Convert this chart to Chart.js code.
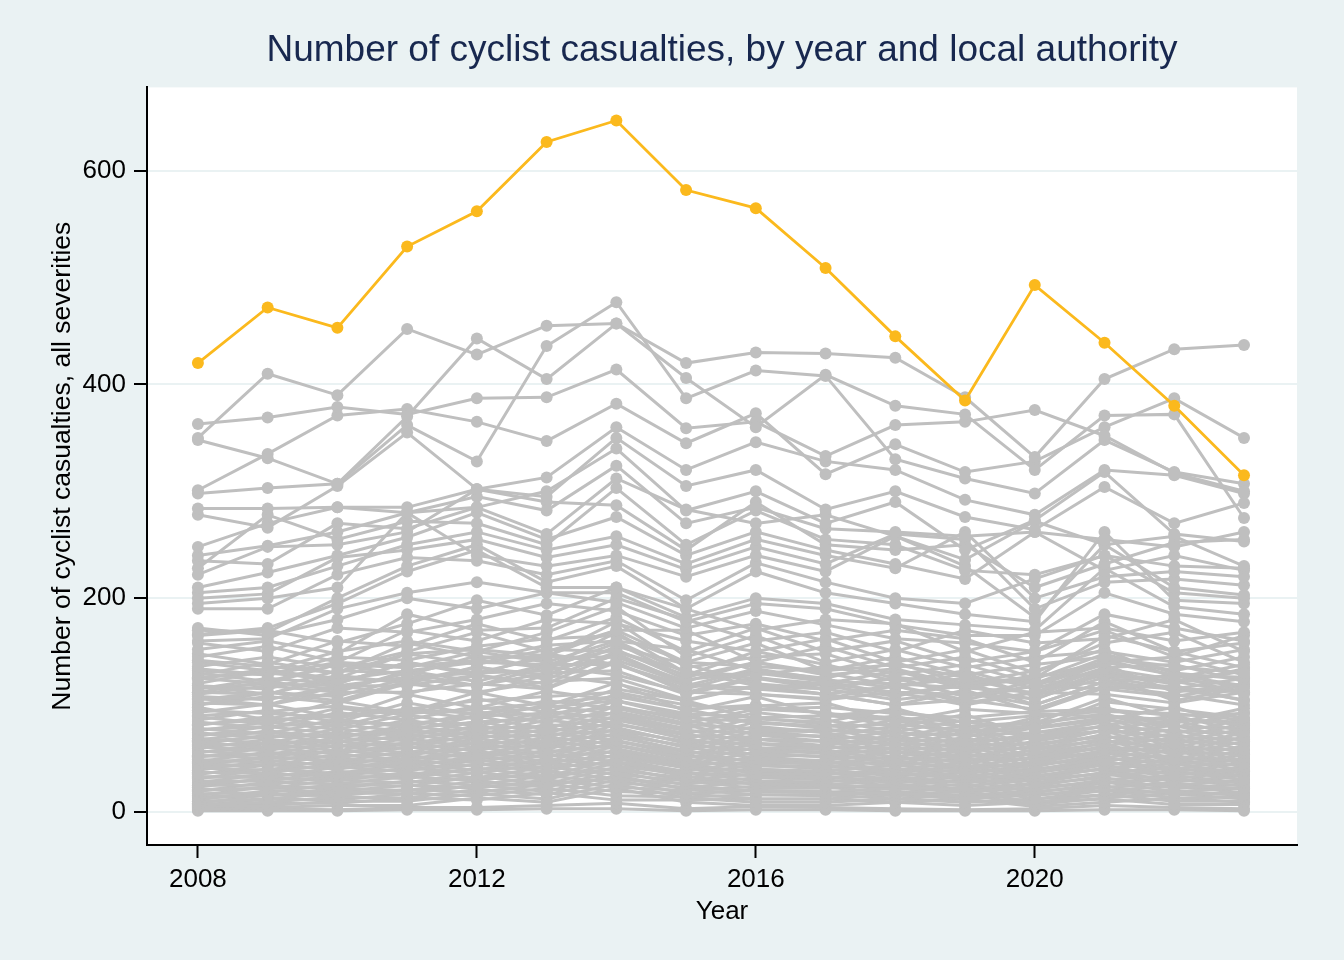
<!DOCTYPE html>
<html>
<head>
<meta charset="utf-8">
<title>Cyclist casualties by local authority</title>
<script src="https://cdn.jsdelivr.net/npm/chart.js@4.4.1/dist/chart.umd.min.js"></script>
<style>
  html, body { margin: 0; padding: 0; background: #eaf2f3; }
  #wrap { width: 1344px; height: 960px; }
</style>
</head>
<body>
<div id="wrap"><canvas id="chart" width="1344" height="960"></canvas></div>
<script>
'use strict';

const YEARS = [2008, 2009, 2010, 2011, 2012, 2013, 2014, 2015, 2016, 2017, 2018, 2019, 2020, 2021, 2022, 2023];
const X_TICKS = [2008, 2012, 2016, 2020];
const Y_TICKS = [0, 200, 400, 600];

// highlighted authority
const highlight = [420, 472, 453, 529, 562, 627, 647, 582, 565, 509, 445, 385, 493, 439, 380, 315];

// grey authorities, read off roughly by band
const upperSeries = [
  [350, 410, 390, 452, 428, 455, 457, 420, 430, 429, 425, 388, 332, 405, 433, 437],
  [348, 331, 307, 370, 443, 405, 457, 406, 360, 409, 380, 372, 320, 371, 372, 275],
  [363, 369, 379, 372, 387, 388, 414, 359, 365, 333, 362, 365, 376, 352, 317, 300],
  [301, 335, 371, 377, 365, 347, 382, 345, 373, 316, 344, 318, 328, 360, 387, 350],
  [298, 303, 307, 362, 328, 436, 477, 387, 413, 408, 330, 312, 298, 348, 318, 307],
  [284, 284, 285, 285, 302, 313, 360, 320, 346, 328, 320, 292, 278, 320, 315, 298],
  [278, 266, 305, 355, 302, 295, 350, 305, 320, 283, 300, 276, 264, 304, 270, 289],
  [248, 270, 285, 280, 285, 300, 340, 282, 300, 270, 290, 245, 273, 318, 260, 253]
];

const middleSeries = [
  [240, 249, 262, 280, 295, 282, 324, 270, 285, 265, 262, 258, 262, 255, 248, 262],
  [235, 232, 270, 265, 285, 260, 312, 283, 270, 278, 258, 236, 272, 250, 258, 230],
  [228, 278, 255, 272, 270, 250, 303, 250, 282, 255, 250, 226, 222, 240, 230, 228],
  [222, 248, 250, 262, 302, 290, 287, 245, 290, 250, 245, 250, 210, 232, 252, 255],
  [210, 224, 240, 257, 280, 255, 276, 240, 262, 245, 232, 218, 262, 226, 240, 226],
  [205, 210, 230, 250, 262, 245, 258, 232, 255, 240, 228, 262, 200, 220, 225, 220],
  [200, 204, 238, 245, 255, 238, 250, 227, 248, 232, 260, 255, 190, 215, 218, 212],
  [195, 200, 210, 280, 240, 230, 240, 220, 240, 225, 258, 230, 182, 250, 210, 203],
  [190, 190, 222, 238, 235, 222, 235, 198, 233, 215, 200, 195, 218, 240, 205, 200],
  [170, 168, 200, 230, 250, 215, 230, 190, 225, 205, 195, 185, 178, 262, 198, 195],
  [166, 172, 195, 225, 245, 210, 210, 182, 200, 195, 180, 175, 170, 228, 192, 185],
  [160, 162, 190, 205, 215, 205, 205, 178, 195, 190, 175, 165, 165, 205, 185, 178]
];

const lowerSeries = [
  [172, 165, 180, 200, 190, 205, 196, 172, 188, 175, 162, 158, 150, 185, 172, 160],
  [165, 170, 158, 176, 198, 184, 210, 190, 170, 180, 176, 150, 168, 172, 160, 168],
  [158, 150, 172, 168, 180, 195, 188, 165, 176, 160, 170, 162, 140, 178, 150, 158],
  [152, 160, 148, 185, 170, 172, 200, 180, 160, 168, 150, 170, 158, 162, 180, 150],
  [148, 138, 160, 155, 176, 160, 182, 150, 172, 150, 160, 140, 150, 170, 145, 165],
  [145, 155, 140, 170, 160, 180, 176, 160, 150, 162, 140, 152, 130, 158, 168, 140],
  [142, 136, 130, 148, 152, 146, 170, 140, 136, 132, 138, 126, 120, 144, 136, 130],
  [140, 132, 150, 160, 150, 168, 192, 145, 165, 140, 152, 135, 145, 150, 140, 152],
  [136, 145, 135, 150, 168, 150, 170, 170, 140, 155, 135, 145, 125, 165, 150, 135],
  [134, 128, 140, 136, 142, 156, 160, 130, 128, 136, 126, 120, 126, 140, 128, 126],
  [132, 128, 145, 142, 155, 162, 165, 140, 158, 132, 145, 128, 138, 145, 132, 145],
  [130, 122, 138, 128, 146, 134, 158, 126, 140, 128, 134, 118, 124, 148, 130, 124],
  [128, 140, 130, 158, 145, 145, 178, 135, 145, 148, 128, 138, 120, 140, 145, 128],
  [126, 130, 124, 132, 140, 138, 152, 124, 130, 122, 120, 116, 112, 134, 124, 118],
  [125, 120, 138, 135, 150, 140, 160, 152, 132, 125, 140, 120, 132, 152, 125, 138],
  [124, 134, 120, 140, 128, 148, 138, 118, 134, 124, 116, 130, 108, 132, 120, 134],
  [120, 132, 125, 148, 138, 152, 150, 128, 150, 138, 122, 132, 115, 135, 138, 122],
  [118, 110, 128, 120, 136, 124, 150, 132, 118, 115, 126, 108, 118, 138, 112, 120],
  [118, 115, 132, 130, 142, 135, 168, 130, 125, 120, 132, 115, 128, 128, 120, 132],
  [116, 120, 118, 126, 130, 132, 146, 118, 116, 120, 112, 110, 106, 126, 116, 112],
  [115, 125, 120, 140, 130, 145, 145, 122, 140, 130, 118, 125, 110, 142, 128, 118],
  [112, 122, 114, 130, 118, 136, 128, 112, 126, 118, 108, 122, 100, 122, 128, 110],
  [112, 110, 125, 122, 135, 128, 155, 138, 120, 115, 125, 108, 122, 120, 115, 125],
  [110, 118, 112, 132, 122, 138, 138, 115, 132, 122, 110, 118, 105, 130, 122, 112],
  [108, 105, 118, 118, 128, 120, 148, 120, 115, 110, 118, 105, 118, 115, 108, 118],
  [106, 100, 118, 110, 128, 116, 142, 120, 110, 106, 118, 102, 112, 128, 104, 116],
  [105, 112, 108, 125, 118, 130, 132, 110, 125, 115, 105, 112, 100, 122, 115, 105],
  [102, 100, 112, 112, 120, 115, 140, 112, 110, 105, 112, 100, 112, 110, 102, 112],
  [100, 112, 104, 122, 110, 128, 120, 104, 118, 110, 100, 114, 94, 116, 118, 104],
  [100, 108, 102, 120, 112, 122, 125, 105, 118, 110, 100, 105, 96, 118, 110, 100]
];

const baseSeries = [
  [98, 86, 104, 93, 112, 99, 121, 94, 108, 90, 95, 84, 78, 103, 96, 88],
  [95, 92, 88, 96, 104, 108, 112, 100, 96, 98, 92, 88, 94, 96, 90, 92],
  [93, 101, 88, 110, 97, 113, 104, 88, 99, 102, 84, 96, 92, 89, 83, 97],
  [90, 94, 99, 92, 96, 102, 108, 96, 100, 92, 88, 84, 90, 94, 92, 86],
  [89, 82, 97, 91, 106, 93, 115, 104, 87, 84, 97, 79, 83, 107, 88, 81],
  [86, 95, 84, 102, 91, 104, 97, 83, 96, 93, 79, 91, 70, 86, 98, 79],
  [84, 78, 93, 86, 99, 88, 110, 96, 83, 80, 90, 73, 88, 98, 79, 93],
  [82, 86, 90, 96, 92, 98, 104, 92, 88, 90, 86, 80, 84, 90, 86, 84],
  [81, 89, 80, 95, 87, 100, 91, 78, 93, 86, 75, 86, 67, 81, 90, 75],
  [78, 73, 87, 79, 94, 83, 104, 90, 76, 75, 86, 70, 82, 92, 73, 87],
  [77, 80, 84, 82, 90, 92, 98, 88, 84, 80, 82, 76, 78, 86, 80, 78],
  [76, 84, 77, 91, 80, 94, 87, 73, 88, 82, 70, 81, 61, 77, 86, 70],
  [74, 69, 82, 75, 90, 77, 99, 86, 72, 71, 80, 66, 79, 88, 68, 83],
  [72, 74, 70, 78, 84, 88, 92, 82, 78, 76, 74, 72, 74, 80, 76, 74],
  [71, 80, 73, 86, 76, 90, 83, 68, 84, 78, 66, 78, 58, 73, 81, 66],
  [69, 64, 78, 70, 85, 73, 94, 81, 68, 66, 76, 62, 74, 84, 64, 78],
  [67, 76, 69, 81, 72, 86, 79, 64, 80, 74, 62, 74, 55, 69, 77, 62],
  [66, 70, 72, 74, 78, 80, 88, 76, 74, 70, 68, 66, 70, 76, 70, 68],
  [65, 60, 74, 66, 81, 69, 90, 77, 64, 62, 72, 58, 70, 80, 60, 74],
  [63, 72, 65, 77, 68, 82, 75, 60, 76, 70, 58, 70, 51, 65, 73, 58],
  [62, 64, 66, 70, 74, 76, 82, 72, 68, 66, 64, 62, 64, 70, 66, 64],
  [61, 57, 70, 62, 77, 65, 86, 73, 60, 59, 68, 55, 66, 76, 56, 70],
  [59, 68, 61, 73, 64, 78, 71, 57, 72, 66, 55, 66, 48, 62, 69, 55],
  [57, 53, 66, 59, 73, 61, 82, 69, 57, 55, 64, 51, 62, 72, 53, 66],
  [56, 60, 62, 64, 70, 72, 76, 66, 64, 60, 60, 58, 60, 66, 60, 58],
  [55, 64, 57, 69, 60, 74, 67, 53, 68, 62, 51, 62, 45, 58, 65, 51],
  [53, 50, 62, 55, 69, 58, 78, 65, 53, 52, 60, 48, 58, 68, 49, 62],
  [52, 54, 56, 60, 64, 66, 72, 62, 58, 56, 56, 52, 54, 60, 56, 54],
  [51, 60, 54, 65, 57, 70, 63, 50, 64, 58, 48, 58, 42, 55, 61, 48],
  [49, 46, 58, 52, 65, 54, 74, 61, 50, 48, 56, 45, 55, 64, 46, 58],
  [47, 56, 50, 61, 53, 66, 59, 47, 60, 55, 45, 55, 39, 51, 57, 45],
  [46, 50, 52, 54, 60, 62, 66, 56, 54, 52, 50, 48, 50, 56, 50, 48],
  [45, 43, 54, 48, 61, 51, 70, 57, 46, 45, 52, 42, 51, 60, 43, 54],
  [43, 52, 47, 57, 50, 62, 55, 44, 56, 51, 42, 51, 36, 48, 53, 42],
  [42, 44, 46, 50, 54, 56, 62, 52, 48, 46, 46, 42, 44, 50, 46, 44],
  [41, 39, 50, 45, 57, 47, 66, 53, 43, 42, 48, 39, 47, 56, 40, 50],
  [39, 48, 43, 53, 46, 58, 51, 41, 52, 47, 39, 47, 33, 44, 49, 39],
  [37, 36, 46, 41, 53, 44, 62, 49, 40, 38, 44, 36, 44, 52, 37, 46],
  [36, 40, 42, 44, 50, 52, 56, 46, 44, 42, 40, 38, 40, 46, 40, 38],
  [35, 44, 40, 49, 43, 54, 47, 38, 48, 44, 36, 44, 30, 41, 45, 36],
  [33, 32, 42, 38, 49, 40, 58, 45, 36, 35, 40, 33, 40, 48, 34, 42],
  [32, 34, 36, 40, 44, 46, 52, 42, 38, 36, 36, 32, 34, 40, 36, 34],
  [31, 40, 36, 45, 39, 50, 43, 35, 44, 40, 33, 40, 27, 37, 41, 33],
  [29, 29, 38, 34, 45, 37, 54, 41, 33, 32, 37, 30, 37, 44, 31, 38],
  [27, 36, 33, 41, 36, 46, 39, 32, 40, 37, 30, 37, 24, 34, 38, 30],
  [26, 30, 32, 34, 40, 42, 46, 36, 34, 32, 30, 28, 30, 36, 30, 28],
  [25, 25, 34, 31, 41, 33, 50, 37, 29, 28, 33, 27, 33, 40, 28, 34],
  [23, 32, 29, 37, 32, 42, 35, 29, 36, 33, 27, 33, 21, 30, 34, 27],
  [21, 22, 30, 27, 37, 30, 46, 33, 26, 25, 30, 24, 30, 36, 25, 30],
  [20, 22, 24, 28, 32, 34, 40, 30, 26, 24, 24, 20, 22, 28, 24, 22],
  [19, 28, 26, 33, 29, 38, 31, 26, 32, 30, 24, 30, 18, 27, 31, 24],
  [17, 18, 26, 24, 33, 26, 42, 29, 22, 22, 26, 21, 26, 32, 22, 26],
  [15, 24, 22, 29, 25, 34, 27, 23, 28, 26, 21, 26, 15, 23, 27, 21],
  [14, 16, 18, 20, 24, 26, 32, 22, 20, 18, 18, 14, 16, 20, 18, 16],
  [13, 15, 22, 20, 29, 23, 38, 25, 19, 18, 23, 18, 23, 28, 19, 22],
  [11, 20, 19, 25, 22, 30, 23, 20, 24, 23, 18, 23, 12, 20, 24, 18],
  [10, 12, 18, 17, 25, 19, 34, 21, 16, 15, 19, 15, 19, 24, 16, 18],
  [8, 16, 15, 21, 18, 26, 19, 17, 20, 19, 15, 19, 9, 16, 20, 15],
  [7, 9, 14, 13, 21, 16, 30, 17, 12, 12, 16, 12, 16, 20, 13, 14],
  [6, 12, 11, 17, 15, 22, 15, 14, 16, 16, 12, 16, 7, 13, 17, 12],
  [5, 6, 10, 10, 17, 12, 26, 13, 9, 9, 12, 9, 12, 16, 10, 10],
  [4, 8, 8, 13, 11, 18, 11, 11, 12, 12, 9, 12, 5, 9, 13, 9],
  [3, 4, 6, 6, 13, 9, 22, 9, 6, 6, 9, 6, 9, 12, 7, 7],
  [2, 3, 2, 4, 4, 6, 8, 3, 5, 4, 3, 2, 3, 6, 4, 3],
  [1, 1, 1, 2, 2, 3, 3, 1, 2, 2, 1, 1, 1, 2, 2, 1]
];

const FONT = '"Liberation Sans", Arial, Helvetica, sans-serif';
const GREY = '#bfbfbf';
const GOLD = '#fbb91d';

const toPoints = vals => vals.map((v, i) => ({ x: YEARS[i], y: v }));

function greySet(vals) {
  return {
    data: toPoints(vals),
    borderColor: GREY,
    backgroundColor: GREY,
    borderWidth: 3,
    pointRadius: 6,
    pointBorderWidth: 0,
    pointBackgroundColor: GREY,
    order: 1
  };
}

const datasets = [{
  data: toPoints(highlight),
  borderColor: GOLD,
  backgroundColor: GOLD,
  borderWidth: 2.8,
  pointRadius: 6,
  pointBorderWidth: 0,
  pointBackgroundColor: GOLD,
  order: 0
}].concat(
  [].concat(upperSeries, middleSeries, lowerSeries, baseSeries).map(greySet)
);

// white plot region on the blue-grey page
const plotBg = {
  id: 'plotBg',
  beforeDraw(c) {
    const { ctx, chartArea: a } = c;
    ctx.save();
    ctx.fillStyle = '#ffffff';
    ctx.fillRect(a.left, a.top, a.right - a.left, a.bottom - a.top);
    ctx.restore();
  }
};

new Chart(document.getElementById('chart'), {
  type: 'line',
  data: { datasets },
  plugins: [plotBg],
  options: {
    responsive: false,
    animation: false,
    devicePixelRatio: 1,
    layout: { padding: { left: 0, right: 47, top: 0, bottom: 0 } },
    plugins: {
      legend: { display: false },
      tooltip: { enabled: false },
      title: {
        display: true,
        fullSize: false,
        text: 'Number of cyclist casualties, by year and local authority',
        color: '#18284f',
        font: { family: FONT, size: 37, weight: 'normal' },
        padding: { top: 29, bottom: 14 }
      }
    },
    scales: {
      x: {
        type: 'linear',
        min: 2007.27,
        max: 2023.76,
        afterBuildTicks: s => { s.ticks = X_TICKS.map(v => ({ value: v })); },
        afterFit: s => { s.height = 115; },
        grid: { drawOnChartArea: false, drawTicks: true, tickLength: 13, tickWidth: 2, tickColor: '#000' },
        border: { display: true, color: '#000', width: 2 },
        ticks: { color: '#000', padding: 6, maxRotation: 0, font: { family: FONT, size: 26 }, callback: v => String(v) },
        title: { display: true, text: 'Year', color: '#000', font: { family: FONT, size: 26 }, padding: { top: 0, bottom: 33 } }
      },
      y: {
        min: -31,
        max: 678,
        afterBuildTicks: s => { s.ticks = Y_TICKS.map(v => ({ value: v })); },
        afterFit: s => { s.width = 147; },
        grid: { color: '#eaf2f3', lineWidth: 2, tickLength: 13, tickWidth: 2, tickColor: '#000' },
        border: { display: true, color: '#000', width: 2 },
        ticks: { color: '#000', padding: 8, font: { family: FONT, size: 26 }, callback: v => String(v) },
        title: { display: true, text: 'Number of cyclist casualties, all severities', color: '#000', font: { family: FONT, size: 26.5 }, padding: { top: 47, bottom: 0 } }
      }
    }
  }
});
</script>
</body>
</html>
